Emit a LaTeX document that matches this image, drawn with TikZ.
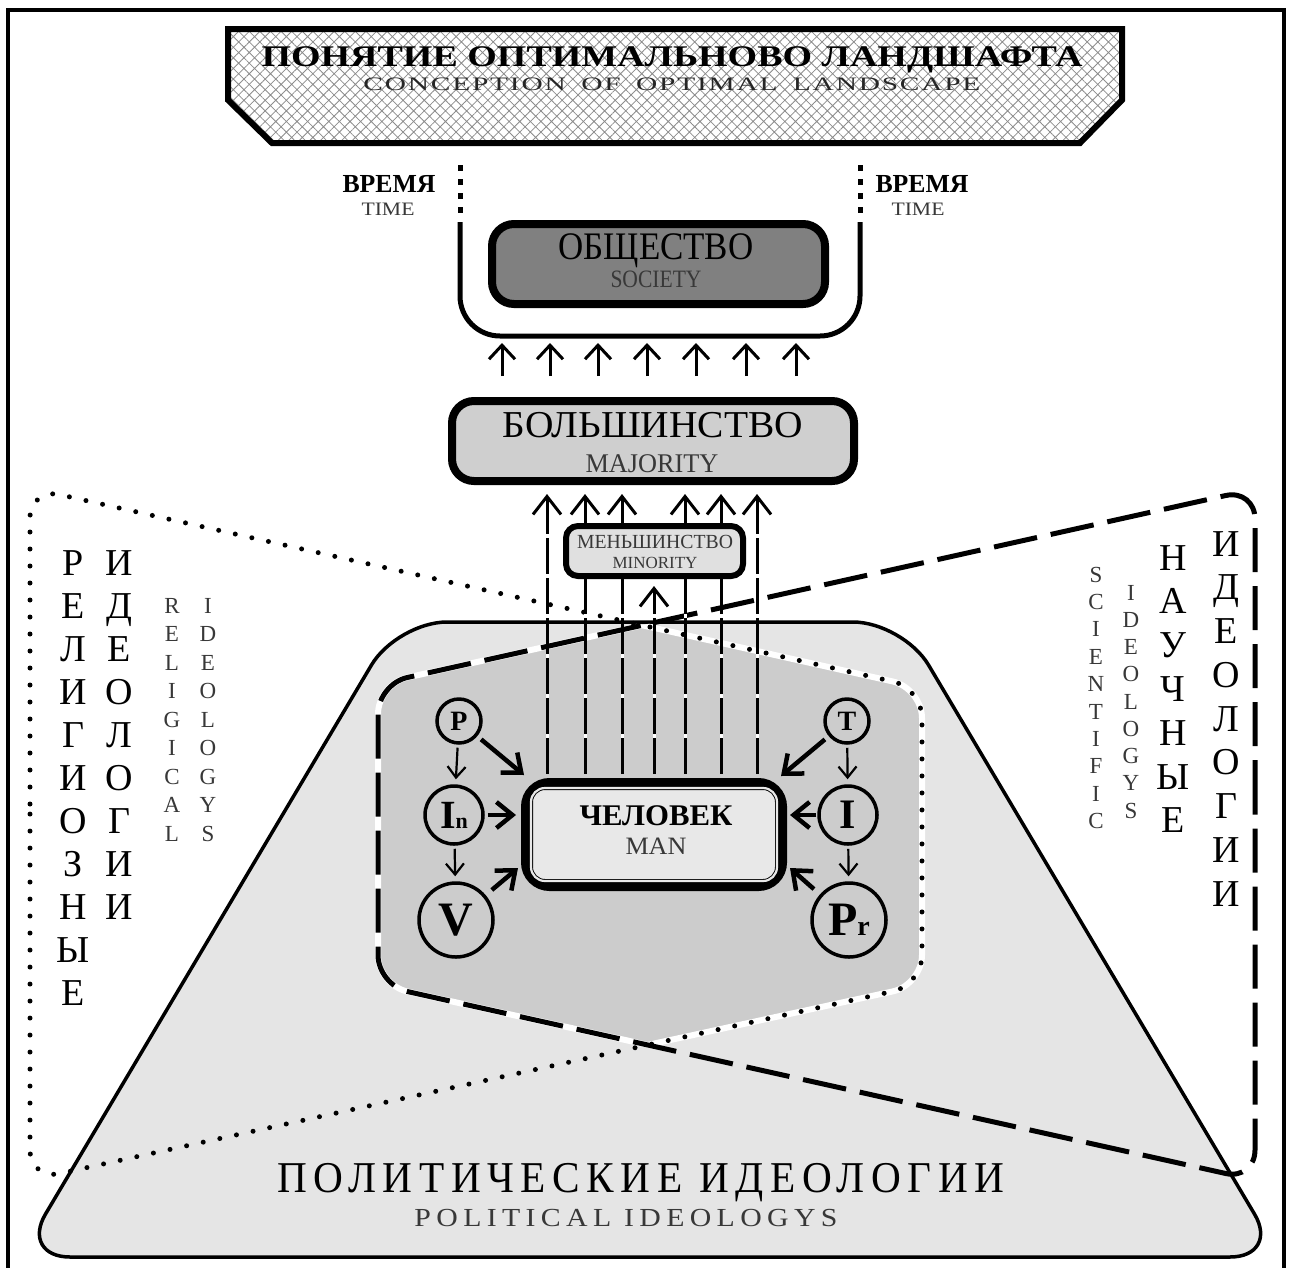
\documentclass[tikz,border=0pt]{standalone}
\usepackage{fontspec}
\setmainfont{Liberation Serif}
\usetikzlibrary{arrows.meta,patterns.meta}
\definecolor{polg}{gray}{0.9}
\definecolor{darkg}{gray}{0.8}
\definecolor{majg}{gray}{0.81}
\definecolor{socg}{gray}{0.5}
\definecolor{ming}{gray}{0.88}
\definecolor{mang}{gray}{0.91}
\definecolor{txg}{gray}{0.22}
\newcommand{\tx}[3]{{\fontsize{#2}{#2}\selectfont\resizebox{#1}{\height}{#3}}}
\def\Rpath{(30,834) -- (30,488) -- (922,688) -- (922,985) -- (30,1180) -- cycle}
\def\Spath{(1255,834) -- (1255,489) -- (378,684) -- (378,985) -- (1255,1180) -- cycle}
\def\Ppath{(650,622) -- (903,622) -- (1280,1257) -- (20,1257) -- (397,622) -- cycle}
\begin{document}
\begin{tikzpicture}[x=1pt,y=-1pt,
  txt/.style={inner sep=0pt, anchor=base},
  bigl/.style={inner sep=0pt, anchor=base, font=\fontsize{38pt}{38pt}\selectfont},
  smll/.style={inner sep=0pt, anchor=base, font=\fontsize{23pt}{23pt}\selectfont, text=txg},
  boxn/.style={draw, inner sep=0pt, rounded corners=22pt, line width=8pt},
  circ/.style={circle, draw, line width=3.5pt, fill=darkg, inner sep=0pt},
  upar/.style={line width=3pt, -{Straight Barb[length=14pt,width=26pt]}},
  vline/.style={line width=3pt, dash pattern=on 36pt off 4pt, -{Straight Barb[length=18pt,width=28pt]}},
  vhalo/.style={white, line width=3pt},
  bigar/.style={line width=4.5pt, -{Straight Barb[length=16pt,width=26pt]}},
  smar/.style={line width=2.2pt, -{Straight Barb[length=11pt,width=18pt]}},
  relline/.style={line width=5pt, line cap=round, dash pattern=on 0pt off 17pt},
  sciline/.style={line width=5pt, dash pattern=on 44pt off 14pt},
]
\useasboundingbox (0,0) rectangle (1290,1267);
\fill[white] (0,0) rectangle (1290,1267);
% frame
\draw[line width=4pt] (8,1270) -- (8,10) -- (1284,10) -- (1284,1270);
% banner
\fill[white] (228,29) -- (1122,29) -- (1122,100) -- (1080,143) -- (272,143) -- (228,100) -- cycle;
\path[pattern={Hatch[angle=45,distance=7.5pt,line width=0.8pt]}, pattern color=black!45] (228,29) -- (1122,29) -- (1122,100) -- (1080,143) -- (272,143) -- (228,100) -- cycle;
\draw[line width=6pt, line join=miter] (228,29) -- (1122,29) -- (1122,100) -- (1080,143) -- (272,143) -- (228,100) -- cycle;
\node[txt] (ban1) at (672,66) {\tx{821pt}{30pt}{\bfseries ПОНЯТИЕ ОПТИМАЛЬНОВО ЛАНДШАФТА}};
\node[txt] (ban2) at (672,90) {\tx{617pt}{19pt}{\color{black!85}\addfontfeature{LetterSpace=6}CONCEPTION\hspace{10pt}OF\hspace{10pt}OPTIMAL\hspace{10pt}LANDSCAPE}};
% political ideologies
\draw[fill=polg, line width=3.5pt, rounded corners=50pt] \Ppath;
% intersection
\begin{scope}
  \clip[rounded corners=30pt] \Rpath;
  \clip[rounded corners=30pt] \Spath;
  \clip[rounded corners=50pt] \Ppath;
  \fill[darkg] (0,0) rectangle (1290,1267);
\end{scope}
\begin{scope}
  \clip[rounded corners=30pt] \Spath;
  \draw[white, line width=6pt, rounded corners=30pt] \Rpath;
\end{scope}
\begin{scope}
  \clip[rounded corners=30pt] \Rpath;
  \draw[white, line width=6pt, rounded corners=30pt] \Spath;
\end{scope}
\draw[relline, rounded corners=30pt] \Rpath;
\draw[sciline, rounded corners=30pt] \Spath;
% boxes
\node[boxn, fill=socg, minimum width=333pt, minimum height=80pt] (soc) at (658.5,264) {};
\node[boxn, fill=majg, minimum width=402pt, minimum height=80pt] (maj) at (653,441) {};
\node[boxn, line width=9pt, fill=mang, minimum width=257pt, minimum height=104pt, rounded corners=24pt] (man) at (654,834.5) {};
\draw[line width=0.9pt, double=mang, double distance=2.2pt, rounded corners=14pt] ([shift={(10,10)}]man.north west) rectangle ([shift={(-10,-10)}]man.south east);
% vertical lines
\foreach \x in {547,585,622,685,721,757} {
  \draw[vhalo, shorten <=4.5pt, shorten >=24pt] (\x,0 |- man.north) -- (\x,0 |- maj.south);
  \draw[vline, shorten <=4.5pt, shorten >=9pt] (\x,0 |- man.north) -- (\x,0 |- maj.south);
}
\node[boxn, line width=6pt, rounded corners=12pt, fill=ming, minimum width=177pt, minimum height=50pt] (mino) at (654.5,551) {};
\draw[vhalo, shorten <=4.5pt, shorten >=22pt] (654,0 |- man.north) -- (654,0 |- mino.south);
\draw[vline, shorten <=4.5pt, shorten >=7pt] (654,0 |- man.north) -- (654,0 |- mino.south);
% U shape
\coordinate (Ub) at (660,336);
\draw[line width=5pt, rounded corners=40pt] (460,222) -- (460,336) -- (860,336) -- (860,222);
\draw[line width=5pt, dash pattern=on 6pt off 8pt] (460,165) -- (460,218);
\draw[line width=5pt, dash pattern=on 6pt off 8pt] (860,165) -- (860,218);
\foreach \x in {502,550,598,647,696,746,796}
  \draw[upar, shorten <=21pt, shorten >=7pt] (\x,0 |- maj.north) -- (\x,0 |- Ub);
% box texts
\node[txt] (soct1) at (656,259) {\tx{195pt}{39pt}{ОБЩЕСТВО}};
\node[txt] (soct2) at (656,287) {\tx{91pt}{25pt}{\color{txg}SOCIETY}};
\node[txt] (majt1) at (653,437) {\tx{300pt}{38pt}{БОЛЬШИНСТВО}};
\node[txt] (majt2) at (652,472) {\tx{133pt}{27pt}{\color{txg}MAJORITY}};
\node[txt] (mint1) at (655,548) {\tx{156pt}{20pt}{\color{txg}МЕНЬШИНСТВО}};
\node[txt] (mint2) at (655,568) {\tx{85pt}{17pt}{\color{txg}MINORITY}};
\node[txt] (mant1) at (656,825) {\tx{153pt}{30pt}{\bfseries ЧЕЛОВЕК}};
\node[txt] (mant2) at (656,854) {\tx{61pt}{25pt}{\color{txg}MAN}};
% time labels
\node[txt] (tl1) at (389,192) {\tx{93pt}{26pt}{\bfseries ВРЕМЯ}};
\node[txt] (tl2) at (388,215) {\tx{53pt}{19pt}{\color{txg}TIME}};
\node[txt] (tr1) at (922,192) {\tx{93pt}{26pt}{\bfseries ВРЕМЯ}};
\node[txt] (tr2) at (918,215) {\tx{53pt}{19pt}{\color{txg}TIME}};
% circles
\node[circ, minimum size=44pt] (P) at (459,721) {\fontsize{28pt}{28pt}\selectfont\bfseries P};
\node[circ, minimum size=58pt] (In) at (454,815) {\fontsize{40pt}{40pt}\selectfont\bfseries I\fontsize{22pt}{22pt}\selectfont n};
\node[circ, minimum size=74pt] (V) at (456,920) {\fontsize{48pt}{48pt}\selectfont\bfseries V};
\node[circ, minimum size=44pt] (T) at (847,721) {\fontsize{28pt}{28pt}\selectfont\bfseries T};
\node[circ, minimum size=58pt] (I) at (848,815) {\fontsize{42pt}{42pt}\selectfont\bfseries I};
\node[circ, minimum size=74pt] (Pr) at (849,920) {\fontsize{48pt}{48pt}\selectfont\bfseries P\fontsize{28pt}{28pt}\selectfont r};
\coordinate (mP) at (524,775);
\coordinate (mIn) at (516,815);
\coordinate (mV) at (518,868);
\coordinate (mT) at (781,776);
\coordinate (mI) at (790,815);
\coordinate (mPr) at (790,868);
\draw[bigar, shorten <=5pt] (P) -- (mP);
\draw[bigar, shorten <=3pt] (In) -- (mIn);
\draw[bigar, shorten <=8pt] (V) -- (mV);
\draw[bigar, shorten <=5pt] (T) -- (mT);
\draw[bigar, shorten <=1pt] (I) -- (mI);
\draw[bigar, shorten <=8pt] (Pr) -- (mPr);
\draw[smar, shorten <=3pt, shorten >=5pt] (P) -- (In);
\draw[smar, shorten <=3pt, shorten >=5pt] (In) -- (V);
\draw[smar, shorten <=3pt, shorten >=5pt] (T) -- (I);
\draw[smar, shorten <=3pt, shorten >=5pt] (I) -- (Pr);
% letter columns
\foreach \c [count=\i from 0] in {Р,Е,Л,И,Г,И,О,З,Н,Ы,Е} \node[bigl] (ra\i) at (73,{575+43*\i}) {\c};
\foreach \c [count=\i from 0] in {И,Д,Е,О,Л,О,Г,И,И} \node[bigl] (rb\i) at (119,{575+43*\i}) {\c};
\foreach \c [count=\i from 0] in {R,E,L,I,G,I,C,A,L} \node[smll] (rc\i) at (172,{613+28.5*\i}) {\c};
\foreach \c [count=\i from 0] in {I,D,E,O,L,O,G,Y,S} \node[smll] (rd\i) at (208,{613+28.5*\i}) {\c};
\foreach \c [count=\i from 0] in {S,C,I,E,N,T,I,F,I,C} \node[smll] (sa\i) at (1096,{582+27.4*\i}) {\c};
\foreach \c [count=\i from 0] in {I,D,E,O,L,O,G,Y,S} \node[smll] (sb\i) at (1131,{600+27.25*\i}) {\c};
\foreach \c [count=\i from 0] in {Н,А,У,Ч,Н,Ы,Е} \node[bigl] (sc\i) at (1173,{570+43.8*\i}) {\c};
\foreach \c [count=\i from 0] in {И,Д,Е,О,Л,О,Г,И,И} \node[bigl] (sd\i) at (1226,{556+43.75*\i}) {\c};
% bottom labels
\node[txt] (pol1) at (641,1192) {\tx{727pt}{44pt}{\addfontfeature{LetterSpace=16}ПОЛИТИЧЕСКИЕ ИДЕОЛОГИИ}};
\node[txt] (pol2) at (626,1226) {\tx{423pt}{26pt}{\color{txg}\addfontfeature{LetterSpace=18}POLITICAL IDEOLOGYS}};
\end{tikzpicture}
\end{document}
